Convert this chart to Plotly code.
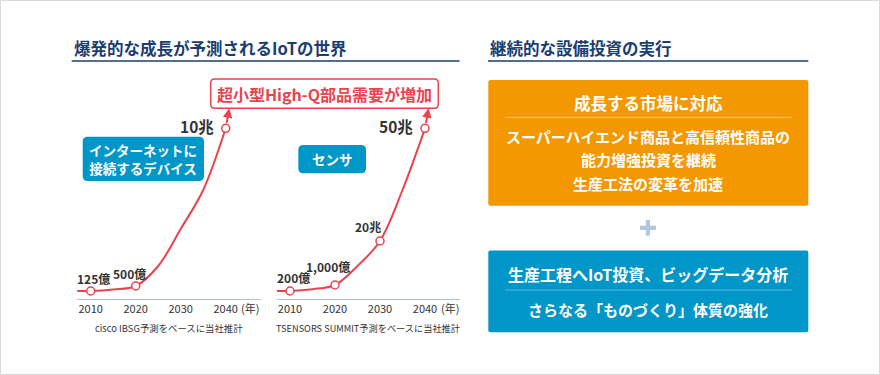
import plotly.graph_objects as go

# ---------------- data ----------------
curve_years = [2007, 2010, 2015, 2020, 2025, 2030, 2035, 2040]
iot_index = [7.7, 7.7, 9.2, 12.7, 32.7, 69.7, 108.7, 170.4]      # illustrative growth curve (IoT devices)
sensor_index = [7.7, 7.7, 9.5, 13.7, 32.7, 57.7, 108.7, 170.4]   # illustrative growth curve (sensors)

iot_years = [2010, 2020, 2040]
iot_labels = ["125億", "500億", "10兆"]
sensor_years = [2010, 2020, 2030, 2040]
sensor_labels = ["200億", "1,000億", "20兆", "50兆"]

arrow_year = 2040.8
arrow_index = 190.4

tick_years = [2010, 2020, 2030, 2040]
tick_text = ["2010", "2020", "2030", "2040"]

title_left = "爆発的な成長が予測されるIoTの世界"
title_right = "継続的な設備投資の実行"
callout = "超小型High-Q部品需要が増加"
iot_tag = ["インターネットに", "接続するデバイス"]
sensor_tag = "センサ"
iot_source = "cisco IBSG予測をベースに当社推計"
sensor_source = "TSENSORS SUMMIT予測をベースに当社推計"
orange_head = "成長する市場に対応"
orange_body = ["スーパーハイエンド商品と高信頼性商品の", "能力増強投資を継続", "生産工法の変革を加速"]
blue_head = "生産工程へIoT投資、ビッグデータ分析"
blue_body = "さらなる「ものづくり」体質の強化"

# ---------------- styles ----------------
W, H = 880, 375
FONT = "Noto Sans CJK JP"
RED = "#e8434e"
NAVY = "#1b3d6f"
ORANGE = "#f39800"
BLUE = "#0096c8"
AXIS = "#a9c4de"
DARK = "#333333"


def X(p):
    return p / W


def Y(p):
    return 1 - p / H


def rrect(x0, y0, x1, y1, r):
    pts = [
        ("M", [(x0 + r, y0)]), ("L", [(x1 - r, y0)]), ("Q", [(x1, y0), (x1, y0 + r)]),
        ("L", [(x1, y1 - r)]), ("Q", [(x1, y1), (x1 - r, y1)]), ("L", [(x0 + r, y1)]),
        ("Q", [(x0, y1), (x0, y1 - r)]), ("L", [(x0, y0 + r)]), ("Q", [(x0, y0), (x0 + r, y0)]),
    ]
    s = ""
    for cmd, ps in pts:
        s += cmd + " " + " ".join(f"{X(a):.5f},{Y(b):.5f}" for a, b in ps) + " "
    return s + "Z"


def ptext(xp, yp, text, size, color, anchor="center"):
    return dict(x=X(xp), y=Y(yp), xref="paper", yref="paper", text=text, showarrow=False,
                xanchor=anchor, yanchor="middle", font=dict(family=FONT, size=size, color=color))


fig = go.Figure()

charts = [
    dict(xa="x", ya="y", idx=iot_index, yrs=iot_years, labels=iot_labels,
         dom=(76.7, 261), x0px=90.7,
         offs=[(2.6, 12.7, "center", 12), (-6.4, 13, "center", 12), (-10, 2.3, "right", 15.5)]),
    dict(xa="x2", ya="y2", idx=sensor_index, yrs=sensor_years, labels=sensor_labels,
         dom=(276.7, 460), x0px=290,
         offs=[(3.3, 13.7, "center", 12), (-6.7, 19, "center", 12), (-11.7, 14.3, "center", 12),
               (-10, 2.3, "right", 15.5)]),
]

ydom = (Y(298.7), Y(98.7))
annotations = []
layout_axes = {}
for i, c in enumerate(charts):
    idxmap = dict(zip(curve_years, c["idx"]))
    fig.add_trace(go.Scatter(x=curve_years, y=c["idx"], mode="lines",
                             line=dict(color=RED, width=2, shape="spline", smoothing=1.0),
                             xaxis=c["xa"], yaxis=c["ya"], hoverinfo="skip", showlegend=False))
    my = [idxmap[yv] for yv in c["yrs"]]
    fig.add_trace(go.Scatter(x=c["yrs"], y=my, mode="markers",
                             marker=dict(size=8, color="white", line=dict(color=RED, width=1.5)),
                             xaxis=c["xa"], yaxis=c["ya"], hoverinfo="skip", showlegend=False,
                             cliponaxis=False))
    # arrow continuing the curve
    annotations.append(dict(x=arrow_year, y=arrow_index, ax=c["yrs"][-1], ay=my[-1],
                            xref=c["xa"], yref=c["ya"], axref=c["xa"], ayref=c["ya"],
                            text="", showarrow=True, arrowhead=2, arrowsize=0.95, arrowwidth=2,
                            arrowcolor=RED, startstandoff=4))
    for (yr, val, lab, (dx, dy, anc, fs)) in zip(c["yrs"], my, c["labels"], c["offs"]):
        annotations.append(dict(x=yr, y=val, xref=c["xa"], yref=c["ya"], text=f"<b>{lab}</b>",
                                showarrow=False, xshift=dx, yshift=dy, xanchor=anc,
                                yanchor="middle",
                                font=dict(family=FONT, size=fs, color=DARK)))
    # (年)
    annotations.append(dict(x=2045.5, y=Y(308), xref=c["xa"], yref="paper", text="(年)",
                            showarrow=False, xanchor="center", yanchor="middle",
                            font=dict(family=FONT, size=11, color=DARK)))
    d0, d1 = c["dom"]
    rng = [2010 - (c["x0px"] - d0) / 4.5, 2010 + (d1 - c["x0px"]) / 4.5]
    sfx = "" if i == 0 else "2"
    layout_axes["xaxis" + sfx] = dict(domain=[X(d0), X(d1)], range=rng, showline=True,
                                      linecolor=AXIS, linewidth=1, ticks="", showgrid=False,
                                      zeroline=False, tickvals=tick_years, ticktext=tick_text,
                                      tickfont=dict(family=FONT, size=11, color=DARK),
                                      anchor="y" + sfx, fixedrange=True)
    layout_axes["yaxis" + sfx] = dict(domain=list(ydom), range=[0, 200], visible=False,
                                      anchor="x" + sfx, fixedrange=True)

# source notes
annotations.append(dict(x=0.5, y=Y(328), xref="x domain", yref="paper", text=iot_source,
                        showarrow=False, xanchor="center", yanchor="middle",
                        font=dict(family=FONT, size=9.4, color=DARK)))
annotations.append(dict(x=0.5, y=Y(328), xref="x2 domain", yref="paper", text=sensor_source,
                        showarrow=False, xanchor="center", yanchor="middle",
                        font=dict(family=FONT, size=9.2, color=DARK)))

shapes = []
# outer border
shapes.append(dict(type="rect", xref="paper", yref="paper", x0=X(0.5), x1=X(879.5), y0=Y(0.5),
                   y1=Y(374.5), line=dict(color="#d9d9d9", width=1), fillcolor="rgba(0,0,0,0)"))
# titles & underlines
annotations.append(ptext(71.5, 48.5, f"<b>{title_left}</b>", 16.5, NAVY, "left"))
annotations.append(ptext(488, 48.5, f"<b>{title_right}</b>", 16.5, NAVY, "left"))
for a, b in [(71.7, 459.5), (488, 808.3)]:
    shapes.append(dict(type="line", xref="paper", yref="paper", x0=X(a), x1=X(b), y0=Y(61),
                       y1=Y(61), line=dict(color=NAVY, width=1.5)))

# red callout box
shapes.append(dict(type="path", xref="paper", yref="paper", path=rrect(210.7, 79, 438.3, 108.3, 4),
                   fillcolor="white", line=dict(color=RED, width=1.5)))
annotations.append(ptext(324.5, 94, f"<b>{callout}</b>", 16, RED))

# blue tags
shapes.append(dict(type="path", xref="paper", yref="paper", path=rrect(82.7, 136.7, 204, 181, 5),
                   fillcolor=BLUE, line=dict(width=0)))
annotations.append(ptext(143.3, 159.2, "<br>".join(f"<b>{t}</b>" for t in iot_tag), 13.5, "white"))
shapes.append(dict(type="path", xref="paper", yref="paper", path=rrect(298.3, 145, 366, 173.3, 5),
                   fillcolor=BLUE, line=dict(width=0)))
annotations.append(ptext(332, 159, f"<b>{sensor_tag}</b>", 13.5, "white"))

# orange box
shapes.append(dict(type="path", xref="paper", yref="paper", path=rrect(488.3, 80, 808.3, 205.7, 2),
                   fillcolor=ORANGE, line=dict(width=0)))
shapes.append(dict(type="line", xref="paper", yref="paper", x0=X(505), x1=X(791.7), y0=Y(117.3),
                   y1=Y(117.3), line=dict(color="#f8c272", width=1)))
annotations.append(ptext(648.3, 102.7, f"<b>{orange_head}</b>", 16.5, "white"))
for k, t in enumerate(orange_body):
    annotations.append(ptext(648.3, 136 + 23.7 * k, f"<b>{t}</b>", 15, "white"))

# plus sign
shapes.append(dict(type="rect", xref="paper", yref="paper", x0=X(640), x1=X(656), y0=Y(225.7),
                   y1=Y(230), fillcolor="#b4c6dc", line=dict(width=0)))
shapes.append(dict(type="rect", xref="paper", yref="paper", x0=X(645.8), x1=X(650), y0=Y(220),
                   y1=Y(235.7), fillcolor="#b4c6dc", line=dict(width=0)))

# blue box
shapes.append(dict(type="path", xref="paper", yref="paper", path=rrect(488.3, 250.5, 808.3, 332.3, 2),
                   fillcolor=BLUE, line=dict(width=0)))
shapes.append(dict(type="line", xref="paper", yref="paper", x0=X(505), x1=X(791.7), y0=Y(290),
                   y1=Y(290), line=dict(color="#5bbbe0", width=1)))
annotations.append(ptext(648.3, 274.3, f"<b>{blue_head}</b>", 16, "white"))
annotations.append(ptext(648.3, 309, f"<b>{blue_body}</b>", 15, "white"))

fig.update_layout(width=W, height=H, margin=dict(l=0, r=0, t=0, b=0), paper_bgcolor="white",
                  plot_bgcolor="white", showlegend=False, shapes=shapes, annotations=annotations,
                  **layout_axes)

fig.write_html("out.html", config={"displayModeBar": False},
               post_script="document.body.style.margin='0';document.body.style.overflow='hidden';")
